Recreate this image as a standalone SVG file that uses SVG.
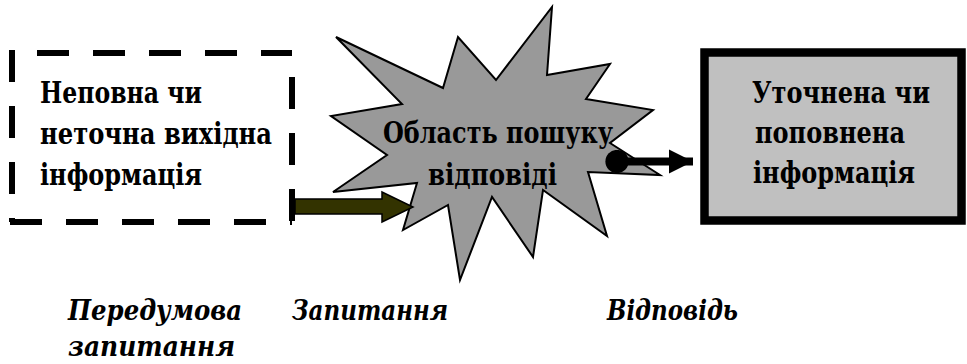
<svg xmlns="http://www.w3.org/2000/svg" width="967" height="364" viewBox="0 0 967 364">
<defs>
<style>
.t{font-family:"DejaVu Serif","Liberation Serif",serif;font-weight:bold;font-size:30px;fill:#000}
.l{font-family:"DejaVu Serif","Liberation Serif",serif;font-weight:bold;font-style:italic;font-size:27px;fill:#000}
.dash{stroke:#000;stroke-width:6;fill:none;stroke-dasharray:32 24}
</style>
<marker id="dot" viewBox="0 0 10 10" refX="5" refY="5" markerWidth="2.9" markerHeight="2.9" markerUnits="strokeWidth"><circle cx="5" cy="5" r="5" fill="#000"/></marker>
<marker id="tri" viewBox="0 0 10 10" refX="10" refY="5" markerWidth="3" markerHeight="3.1" markerUnits="strokeWidth" orient="auto"><path d="M0,0 L10,5 L0,10 Z" fill="#000"/></marker>
</defs>
<rect width="967" height="364" fill="#fff"/>
<g id="node-premise">
<line class="dash" x1="12" y1="53" x2="292" y2="53" stroke-dashoffset="31"/>
<line class="dash" x1="12" y1="50" x2="12" y2="222"/>
<line class="dash" x1="292" y1="53" x2="292" y2="223" stroke-dashoffset="32"/>
<line class="dash" x1="10" y1="222" x2="292" y2="222"/>
<text class="t" x="40" y="103" textLength="162" lengthAdjust="spacingAndGlyphs">Неповна чи</text>
<text class="t" x="40" y="144" textLength="232" lengthAdjust="spacingAndGlyphs">неточна вихідна</text>
<text class="t" x="40" y="185" textLength="162" lengthAdjust="spacingAndGlyphs">інформація</text>
</g>
<g id="node-search">
<polygon points="552,7 547,75 610,64 586,99 653,110 610,143 660,175 588,172 607,236 543,190 533,257 492,197 460,280 448,205 403,230 417,183 333,192 387,155 331,116 402,104 336,37 443,88 458,37 496,80" fill="#999999" stroke="#000" stroke-width="2" stroke-linejoin="miter"/>
<text class="t" x="383" y="143" textLength="230" lengthAdjust="spacingAndGlyphs">Область пошуку</text>
<text class="t" x="428" y="185" textLength="129" lengthAdjust="spacingAndGlyphs">відповіді</text>
</g>
<g id="node-result">
<rect x="704.5" y="52.5" width="257" height="168" fill="#c0c0c0" stroke="#000" stroke-width="8.5"/>
<text class="t" x="752" y="103" textLength="178" lengthAdjust="spacingAndGlyphs">Уточнена чи</text>
<text class="t" x="755" y="143" textLength="150" lengthAdjust="spacingAndGlyphs">поповнена</text>
<text class="t" x="753" y="183" textLength="162" lengthAdjust="spacingAndGlyphs">інформація</text>
</g>
<g id="connectors">
<polygon points="295,199 382,199 382,192 413,207 382,222 382,214 295,214" fill="#333300" stroke="#000" stroke-width="1.5"/>
<line x1="617" y1="161.5" x2="693" y2="161.5" stroke="#000" stroke-width="8" marker-start="url(#dot)" marker-end="url(#tri)"/>
</g>
<g id="labels">
<text class="l" x="68" y="320" textLength="174" lengthAdjust="spacingAndGlyphs">Передумова</text>
<text class="l" x="68" y="356" textLength="167" lengthAdjust="spacingAndGlyphs">запитання</text>
<text class="l" x="292" y="320" textLength="156" lengthAdjust="spacingAndGlyphs">Запитання</text>
<text class="l" x="607" y="320" textLength="131" lengthAdjust="spacingAndGlyphs">Відповідь</text>
</g>
</svg>
